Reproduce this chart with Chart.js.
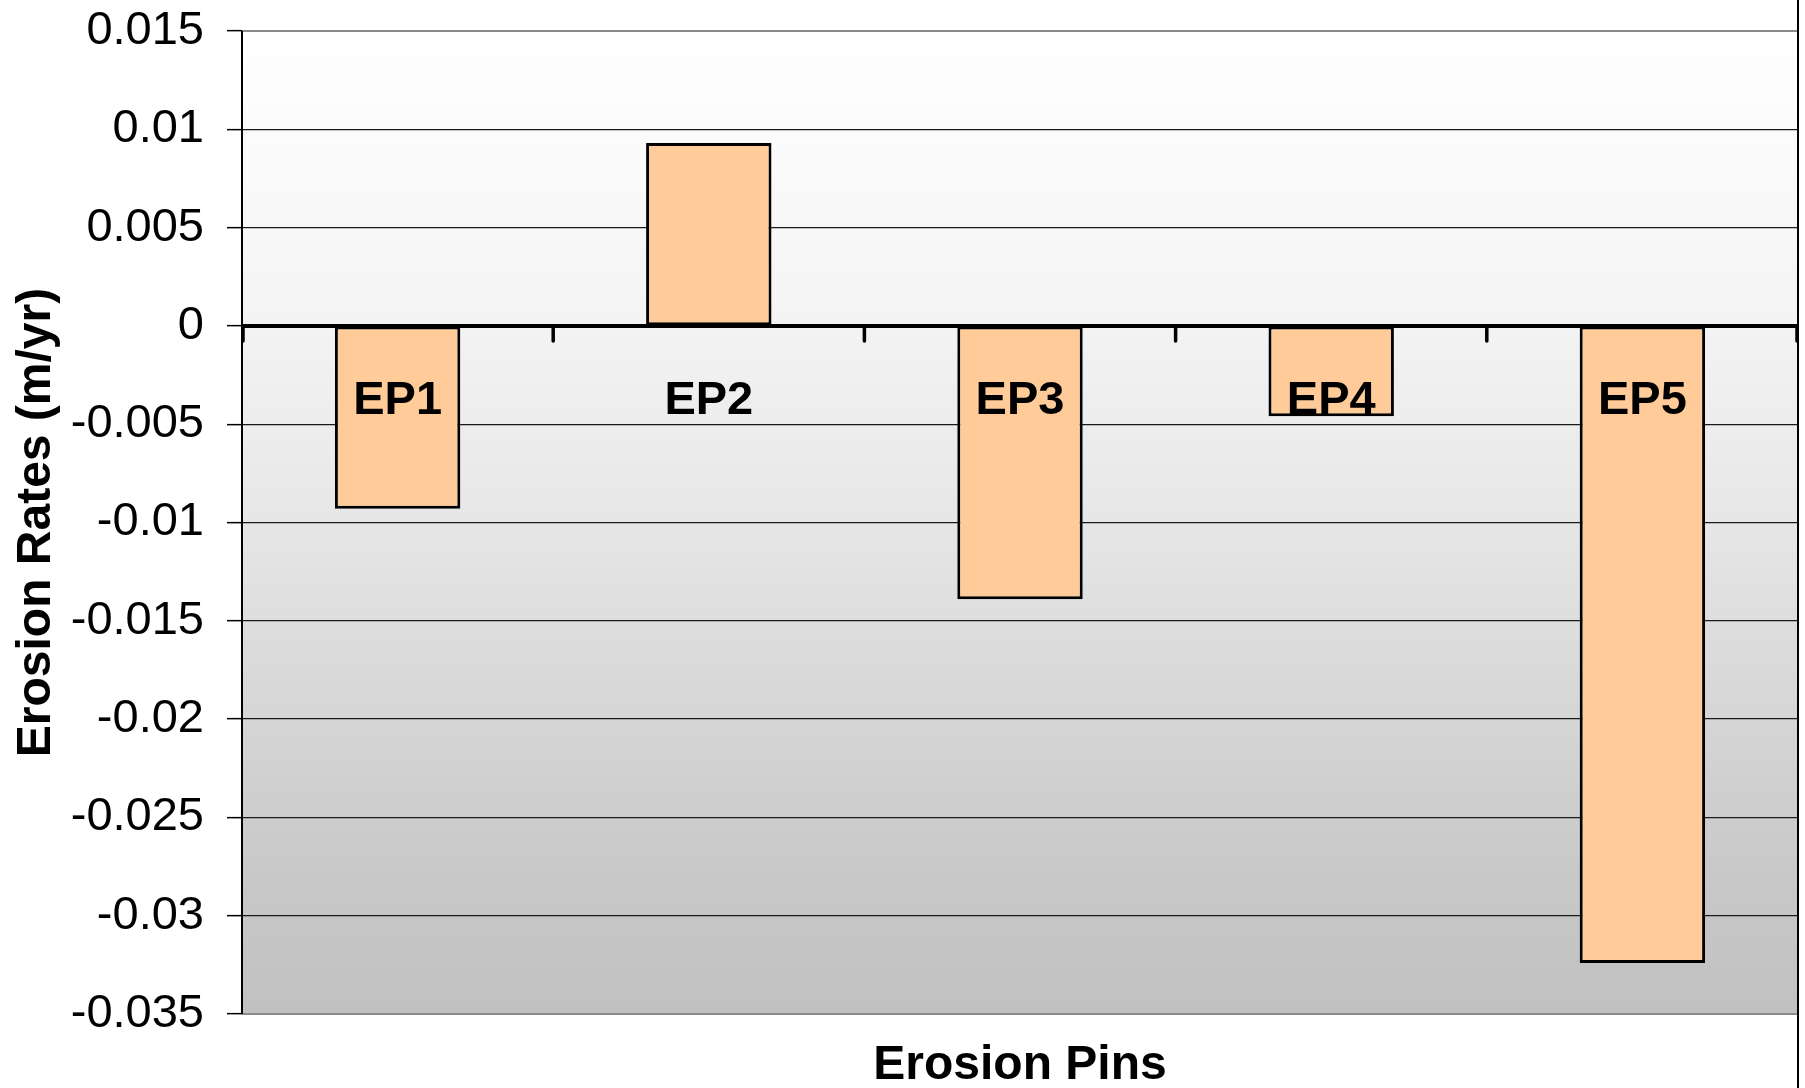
<!DOCTYPE html>
<html>
<head>
<meta charset="utf-8">
<script src="https://cdn.jsdelivr.net/npm/chart.js@4.4.1/dist/chart.umd.min.js"></script>
<style>
  html, body { margin: 0; padding: 0; background: #ffffff; }
  #wrap { width: 1805px; height: 1088px; position: relative; }
</style>
</head>
<body>
<div id="wrap"><canvas id="c"></canvas></div>
<script>
const categories = ["EP1", "EP2", "EP3", "EP4", "EP5"];
const erosionRates = [-0.0093, 0.0093, -0.0139, -0.0046, -0.0324];
const yTickValues = [0.015, 0.01, 0.005, 0, -0.005, -0.01, -0.015, -0.02, -0.025, -0.03, -0.035];
const yTickLabels = ["0.015", "0.01", "0.005", "0", "-0.005", "-0.01", "-0.015", "-0.02", "-0.025", "-0.03", "-0.035"];
const yTitle = "Erosion Rates (m/yr)";
const xTitle = "Erosion Pins";

const FONT = "'Liberation Sans', Arial, sans-serif";

function labelFor(v) {
  for (let i = 0; i < yTickValues.length; i++) {
    if (Math.abs(yTickValues[i] - v) < 1e-9) return yTickLabels[i];
  }
  return "";
}

const bgPlugin = {
  id: 'plotBg',
  beforeDraw(chart) {
    const { ctx, chartArea: a } = chart;
    const g = ctx.createLinearGradient(0, a.top, 0, a.bottom);
    g.addColorStop(0.0, '#ffffff');
    g.addColorStop(0.27, '#f5f5f5');
    g.addColorStop(0.48, '#e8e8e8');
    g.addColorStop(0.68, '#d7d7d7');
    g.addColorStop(0.86, '#c8c8c8');
    g.addColorStop(1.0, '#c1c1c1');
    ctx.save();
    ctx.fillStyle = g;
    ctx.fillRect(a.left, a.top, a.right - a.left, a.bottom - a.top);
    ctx.restore();
  }
};

const overlayPlugin = {
  id: 'overlay',
  afterDatasetsDraw(chart) {
    const { ctx, chartArea: a, scales } = chart;
    const x = scales.x, y = scales.y;
    const y0 = y.getPixelForValue(0);
    ctx.save();
    ctx.strokeStyle = '#8a8a8a';
    ctx.lineWidth = 2;
    ctx.beginPath();
    ctx.moveTo(a.left, a.top); ctx.lineTo(a.right, a.top);
    ctx.moveTo(a.left, a.bottom); ctx.lineTo(a.right, a.bottom);
    ctx.stroke();
    ctx.strokeStyle = '#000000';
    ctx.lineWidth = 4;
    ctx.beginPath();
    ctx.moveTo(a.left, y0); ctx.lineTo(a.right, y0);
    ctx.stroke();
    ctx.lineWidth = 3.5;
    ctx.lineCap = 'round';
    ctx.beginPath();
    const step = x.getPixelForValue(1) - x.getPixelForValue(0);
    for (let i = 0; i <= categories.length; i++) {
      let px = i < categories.length ? x.getPixelForValue(i) - step / 2 : a.right - 1;
      if (i === 0) px = a.left + 1;
      ctx.moveTo(px, y0); ctx.lineTo(px, y0 + 15);
    }
    ctx.stroke();
    ctx.lineCap = 'butt';
    ctx.lineWidth = 2;
    ctx.beginPath();
    ctx.moveTo(a.left, a.top); ctx.lineTo(a.left, a.bottom);
    ctx.stroke();
    ctx.beginPath();
    ctx.moveTo(a.right, 0); ctx.lineTo(a.right, chart.height);
    ctx.stroke();
    ctx.fillStyle = '#000000';
    ctx.font = 'bold 47px ' + FONT;
    ctx.textAlign = 'center';
    ctx.textBaseline = 'middle';
    categories.forEach((c, i) => {
      ctx.fillText(c, x.getPixelForValue(i), y0 + 75);
    });
    ctx.font = 'bold 48px ' + FONT;
    ctx.fillText(xTitle, (a.left + a.right) / 2, 1066);
    ctx.translate(37, (a.top + a.bottom) / 2);
    ctx.rotate(-Math.PI / 2);
    ctx.fillText(yTitle, 0, 0);
    ctx.restore();
  }
};

new Chart(document.getElementById('c'), {
  type: 'bar',
  data: {
    labels: categories,
    datasets: [{
      data: erosionRates,
      backgroundColor: '#ffcc99',
      borderColor: '#000000',
      borderWidth: 3,
      borderSkipped: false,
      barPercentage: 0.403,
      categoryPercentage: 1.0
    }]
  },
  options: {
    responsive: true,
    maintainAspectRatio: false,
    animation: false,
    devicePixelRatio: 1,
    layout: { padding: { top: 31, right: 7, bottom: 0, left: 0 } },
    plugins: { legend: { display: false }, tooltip: { enabled: false } },
    scales: {
      x: {
        grid: { display: false, drawTicks: false },
        border: { display: false },
        ticks: { display: false },
        afterFit(s) { s.height = 74; s.paddingLeft = 0; s.paddingRight = 0; }
      },
      y: {
        min: -0.035,
        max: 0.015,
        afterBuildTicks(s) { s.ticks = yTickValues.map(v => ({ value: v })); },
        border: { display: false },
        grid: {
          color: (c) => (c.tick && (Math.abs(c.tick.value - 0.015) < 1e-9 || Math.abs(c.tick.value + 0.035) < 1e-9)) ? 'rgba(0,0,0,0)' : '#1a1a1a',
          lineWidth: 1.3,
          tickLength: 15,
          tickColor: '#000000',
          tickWidth: 1.5
        },
        ticks: {
          padding: 23,
          color: '#000000',
          font: { family: FONT, size: 47 },
          callback: (v) => labelFor(v)
        },
        afterFit(s) { s.width = 242; s.paddingTop = 0; s.paddingBottom = 0; }
      }
    }
  },
  plugins: [bgPlugin, overlayPlugin]
});
</script>
</body>
</html>
